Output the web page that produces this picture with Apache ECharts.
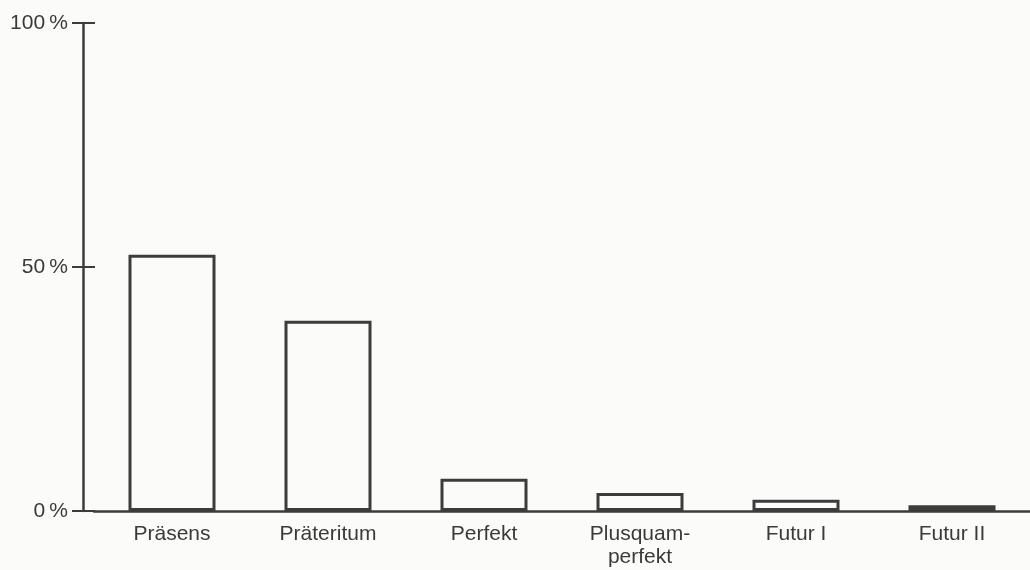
<!DOCTYPE html>
<html>
<head>
<meta charset="utf-8">
<script src="https://cdn.jsdelivr.net/npm/echarts@6/dist/echarts.min.js"></script>
<style>
  html, body { margin: 0; padding: 0; background: #fbfbfa; }
  #main { width: 1030px; height: 570px; }
</style>
</head>
<body>
<div id="main"></div>
<script>
// Zeitformen und ihr Anteil (in %)
var tenses = ['Präsens', 'Präteritum', 'Perfekt', 'Plusquam-\nperfekt', 'Futur I', 'Futur II'];
var shares = [52.5, 39, 6.6, 3.7, 2.3, 1.2];
var yTicks = [0, 50, 100];

var ink = '#3c3c3c';
var chart = echarts.init(document.getElementById('main'));

var option = {
    backgroundColor: '#fbfbfa',
    animation: false,
    grid: {
        left: 94,
        right: 0,
        top: 23,
        bottom: 59
    },
    xAxis: {
        type: 'category',
        data: tenses,
        axisLine: {lineStyle: {color: ink, width: 2.5}},
        axisTick: {show: false},
        axisLabel: {
            color: '#3a3a3a',
            fontFamily: 'Liberation Sans',
            fontSize: 21,
            lineHeight: 23,
            margin: 12,
            interval: 0
        }
    },
    yAxis: [
        {
            // Hauptachse mit Beschriftung, Striche nach außen
            type: 'value',
            position: 'left',
            offset: 11,
            min: yTicks[0],
            max: yTicks[yTicks.length - 1],
            interval: 50,
            axisLine: {show: true, lineStyle: {color: ink, width: 2.5}},
            axisTick: {show: true, length: 11, lineStyle: {color: ink, width: 2}},
            axisLabel: {
                color: '#3a3a3a',
                fontFamily: 'Liberation Sans',
                fontSize: 21,
                margin: 15,
                formatter: function (v) {
                    return v + '\u2009%';
                }
            },
            splitLine: {show: false}
        },
        {
            // nur die Striche nach innen
            type: 'value',
            position: 'left',
            offset: 11,
            min: yTicks[0],
            max: yTicks[yTicks.length - 1],
            interval: 50,
            axisLine: {show: false},
            axisTick: {show: true, inside: true, length: 12, lineStyle: {color: ink, width: 2}},
            axisLabel: {show: false},
            splitLine: {show: false}
        }
    ],
    series: [
        {
            type: 'bar',
            yAxisIndex: 0,
            data: shares,
            barWidth: 87,
            itemStyle: {
                color: 'rgba(255,255,255,0)',
                borderColor: ink,
                borderWidth: 3
            }
        }
    ]
};

chart.setOption(option);
</script>
</body>
</html>
